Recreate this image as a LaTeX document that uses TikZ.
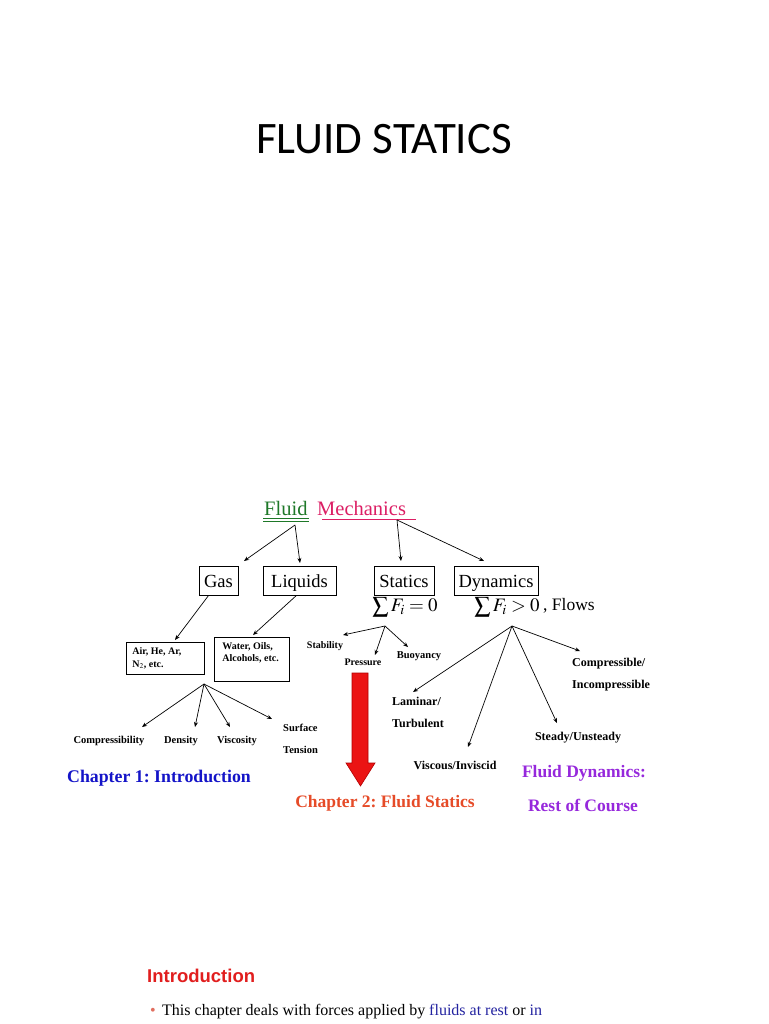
\documentclass[tikz,border=0pt]{standalone}
\usepackage{mathptmx}
\usepackage{fontspec}
\setmainfont{Liberation Serif}
\newfontfamily\titlefont{Carlito}
\newfontfamily\sansfont{Liberation Sans}
\usetikzlibrary{arrows.meta}
\definecolor{fgreen}{RGB}{30,120,40}
\definecolor{fmech}{RGB}{220,30,100}
\definecolor{ch1}{RGB}{20,20,200}
\definecolor{ch2}{RGB}{230,75,40}
\definecolor{ch3}{RGB}{150,40,220}
\definecolor{introred}{RGB}{225,30,30}
\definecolor{bulletc}{RGB}{225,110,95}
\definecolor{tblue}{RGB}{35,35,160}
\definecolor{bigred}{RGB}{235,20,20}
\newcommand{\bigsig}{\mathop{\raisebox{-1.5pt}{\scalebox{1.2}{$\sum$}}}}
\begin{document}
\frenchspacing
\begin{tikzpicture}[x=1pt,y=-1pt,
  box/.style={draw,line width=0.8pt,inner sep=0pt,minimum height=29pt,text height=14pt,text depth=1pt,font=\fontsize{18.5}{18}\selectfont},
  smallbox/.style={draw,line width=0.8pt,inner sep=0pt,anchor=north west,font=\bfseries\fontsize{10}{12.5}\selectfont},
  lbl/.style={inner sep=0pt,font=\bfseries\fontsize{10.5}{22}\selectfont},
  dlbl/.style={inner sep=0pt,align=left,anchor=west,font=\bfseries\fontsize{12}{22}\selectfont},
  slbl/.style={inner sep=0pt,font=\bfseries\fontsize{10}{10}\selectfont},
  arr/.style={line width=0.7pt,-{Stealth[length=5pt,width=4pt]}},
  ln/.style={line width=0.7pt}]
\useasboundingbox (0,0) rectangle (768,1024);
\fill[white] (0,0) rectangle (768,1024);
% title
\node (title) at (384,139) {\titlefont\fontsize{45}{45}\selectfont FLUID STATICS};
% Fluid Mechanics
\node[inner sep=0pt,anchor=base west,text=fgreen,font=\fontsize{20.5}{20}\selectfont] (fluid) at (264,515) {Fluid};
\node[inner sep=0pt,anchor=base west,text=fmech,font=\fontsize{20.5}{20}\selectfont] (mech) at (317,515) {Mechanics};
\draw[fgreen,line width=0.7pt] (263,518.5) -- (309,518.5) (263,521) -- (309,521);
\draw[fmech,line width=0.7pt] (322,519.5) -- (416,519.5);
\coordinate (fsrc) at (295,525);
\coordinate (msrc) at (397,520);
% boxes
\node[box,minimum width=39pt] (gas) at (218.5,580.5) {Gas};
\node[box,minimum width=73pt] (liq) at (299.5,580.5) {Liquids};
\node[box,minimum width=60pt] (stat) at (404,580.5) {Statics};
\node[box,minimum width=84pt] (dyn) at (496,580.5) {Dynamics};
\draw[arr] (fsrc) -- (244,561);
\draw[arr] (fsrc) -- (300,563);
\draw[arr] (msrc) -- (401,561);
\draw[arr] (msrc) -- (484,561);
% sums
\node[inner sep=0pt,font=\fontsize{19}{19}\selectfont] (ssum) at (405,607) {$\bigsig F_i = 0$};
\node[inner sep=0pt,font=\fontsize{19}{19}\selectfont] (dsum) at (507,607) {$\bigsig F_i > 0$};
\node[inner sep=0pt,anchor=west,font=\fontsize{17.5}{17}\selectfont] (flows) at (543,606) {, Flows};
% left subtree
\node[smallbox] (air) at (126,642) {\parbox[c][32pt][c]{78pt}{\leftskip=6pt Air, He, Ar,\\N$_2$, etc.}};
\node[smallbox] (water) at (214,637) {\parbox[c][44pt][t]{75pt}{\vspace*{5pt}\leftskip=8pt Water, Oils,\\Alcohols, etc.}};
\draw[arr] (gas.south west) ++(10,0) -- (175,640);
\draw[arr] (liq.south) ++(-3,0) -- (253,635);
\coordinate (psrc) at (204,684);
\node[lbl] (comp) at (109,741) {Compressibility};
\node[lbl] (dens) at (181,741) {Density};
\node[lbl] (visc) at (237,741) {Viscosity};
\node[lbl,align=left,anchor=west] (surf) at (283,739) {Surface\\Tension};
\draw[arr] (psrc) -- (142,727);
\draw[arr] (psrc) -- (195,727);
\draw[arr] (psrc) -- (230,727);
\draw[arr] (psrc) -- (272,719);
\node[inner sep=0pt,text=ch1,font=\bfseries\fontsize{17.8}{18}\selectfont] (c1) at (159,778) {Chapter 1: Introduction};
% statics subtree
\coordinate (ssrc) at (385,626);
\node[slbl] (stab) at (325,646) {Stability};
\node[slbl] (pres) at (363,662) {Pressure};
\node[slbl,font=\bfseries\fontsize{10.5}{10}\selectfont] (buoy) at (419,656) {Buoyancy};
\draw[arr] (ssrc) -- (343,635);
\draw[arr] (ssrc) -- (375,655);
\draw[arr] (ssrc) -- (408,647);
\draw[draw=red!70!black,fill=bigred,line width=0.6pt] (352,673) -- (368,673) -- (368,763) -- (375,763) -- (360.5,786) -- (346,763) -- (352,763) -- cycle;
\node[inner sep=0pt,text=ch2,font=\bfseries\fontsize{17.5}{17}\selectfont] (c2) at (385,803) {Chapter 2: Fluid Statics};
% dynamics subtree
\coordinate (dsrc) at (512,626);
\node[dlbl] (comp2) at (572,674.5) {Compressible/\\Incompressible};
\node[dlbl] (lam) at (392,712) {Laminar/\\Turbulent};
\node[dlbl,anchor=center] (stead) at (578,738) {Steady/Unsteady};
\node[dlbl,anchor=center] (visc2) at (455,765) {Viscous/Inviscid};
\draw[arr] (dsrc) -- (413,692);
\draw[arr] (dsrc) -- (468,747);
\draw[arr] (dsrc) -- (557,723);
\draw[arr] (dsrc) -- (580,651);
\node[inner sep=0pt,text=ch3,font=\bfseries\fontsize{17.5}{17}\selectfont] (c3a) at (584,773) {Fluid Dynamics:};
\node[inner sep=0pt,text=ch3,font=\bfseries\fontsize{17.5}{17}\selectfont] (c3b) at (583,805) {Rest of Course};
% bottom
\node[inner sep=0pt,anchor=west,text=introred,font=\sansfont\bfseries\fontsize{18.5}{18}\selectfont] (intro) at (147,976) {Introduction};
\node[inner sep=0pt,text=bulletc,font=\fontsize{16}{16}\selectfont] (bul) at (153,1012) {\textbullet};
\node[inner sep=0pt,anchor=west,font=\fontsize{16}{16}\selectfont] (line) at (162,1012) {This chapter deals with forces applied by \textcolor{tblue}{fluids at rest} or \textcolor{tblue}{in}};
\end{tikzpicture}
\end{document}
